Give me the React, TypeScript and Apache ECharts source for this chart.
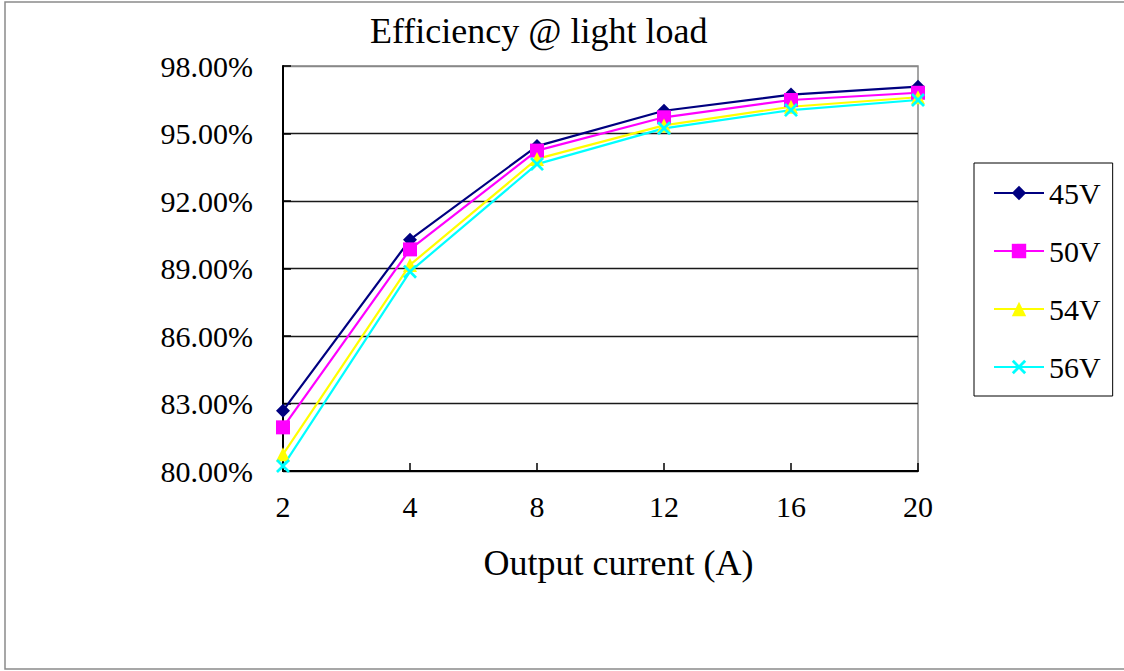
import React, { useEffect, useRef } from "react";
import * as echarts from "echarts";

const categories = ["2", "4", "8", "12", "16", "20"];
const seriesNames = ["45V", "50V", "54V", "56V"];
const eff45 = [82.68, 90.28, 94.44, 96.01, 96.73, 97.08];
const eff50 = [81.94, 89.85, 94.24, 95.72, 96.49, 96.81];
const eff54 = [80.74, 89.16, 93.87, 95.36, 96.19, 96.61];
const eff56 = [80.22, 88.86, 93.64, 95.23, 96.04, 96.49];
const Y_BASE = 80; // axis minimum (%)
const Y_TOP = 98;
const Y_STEP = 3;

const FONT = '"Liberation Serif", "Times New Roman", serif';
const CROSS =
  "path://M0,1.4L1.4,0L5,3.6L8.6,0L10,1.4L6.4,5L10,8.6L8.6,10L5,6.4L1.4,10L0,8.6L3.6,5Z";

export default function App() {
  const ref = useRef<HTMLDivElement>(null);
  useEffect(() => {
    if (!ref.current) return;
    const chart = echarts.init(ref.current, undefined, { renderer: "svg" });
    const colors = ["#000080", "#FF00FF", "#FFFF00", "#00FFFF"];
    const symbols = ["diamond", "rect", "triangle", CROSS];
    const sizes = [14, 14, 14, 14];
    const dataSets = [eff45, eff50, eff54, eff56];
    const nLines = (Y_TOP - Y_BASE) / Y_STEP + 1;
    const splitColors = Array.from({ length: nLines }, (_, i) =>
      i === nLines - 1 ? "#888888" : "#1a1a1a"
    );
    chart.setOption({
      animation: false,
      backgroundColor: "#ffffff",
      title: {
        text: "Efficiency @ light load",
        left: 370,
        top: 13,
        padding: 0,
        textStyle: { fontFamily: FONT, fontSize: 36, fontWeight: "normal", color: "#000" },
      },
      graphic: [
        {
          type: "rect",
          shape: { x: 5, y: 2, width: 1130, height: 667 },
          style: { fill: "none", stroke: "#8a8a8a", lineWidth: 1.5 },
          silent: true,
          z: -10,
        },
      ],
      legend: {
        orient: "vertical",
        left: 974,
        top: 163,
        padding: [15, 12, 14, 19],
        itemGap: 28,
        itemWidth: 50,
        itemHeight: 18,
        borderColor: "#000",
        borderWidth: 1,
        data: seriesNames,
        textStyle: { fontFamily: FONT, fontSize: 30, color: "#000" },
      },
      grid: {
        left: 283,
        top: 66,
        right: 206,
        bottom: 200,
        show: true,
        borderColor: "#888888",
        borderWidth: 1.5,
        containLabel: false,
      },
      xAxis: {
        type: "category",
        data: categories,
        boundaryGap: false,
        name: "Output current (A)",
        nameLocation: "middle",
        nameGap: 74,
        nameTextStyle: { fontFamily: FONT, fontSize: 36, color: "#000", padding: [0, 0, 0, 36] },
        axisLine: { lineStyle: { color: "#000", width: 2 } },
        axisTick: { inside: true, length: 8, lineStyle: { color: "#000", width: 1.5 } },
        axisLabel: { fontFamily: FONT, fontSize: 30, color: "#000", margin: 20 },
        splitLine: { show: false },
      },
      yAxis: {
        type: "value",
        min: 0,
        max: Y_TOP - Y_BASE,
        interval: Y_STEP,
        axisLine: { show: true, lineStyle: { color: "#000", width: 2 } },
        axisTick: { show: true, inside: true, length: 8, lineStyle: { color: "#000", width: 1.5 } },
        axisLabel: {
          fontFamily: FONT,
          fontSize: 30,
          color: "#000",
          margin: 30,
          formatter: (v: number) => (v + Y_BASE).toFixed(2) + "%",
        },
        splitLine: { show: true, lineStyle: { color: splitColors, width: 1.3 } },
      },
      series: seriesNames.map((name, i) => ({
        name,
        type: "line",
        data: dataSets[i].map((v) => +(v - Y_BASE).toFixed(4)),
        symbol: symbols[i],
        symbolSize: sizes[i],
        showAllSymbol: true,
        lineStyle: { color: colors[i], width: 2.2 },
        itemStyle: { color: colors[i] },
        emphasis: { disabled: true },
      })),
    });
    return () => chart.dispose();
  }, []);
  return (
    <div
      ref={ref}
      style={{ position: "absolute", left: 0, top: 0, width: 1124, height: 671, background: "#fff" }}
    />
  );
}
